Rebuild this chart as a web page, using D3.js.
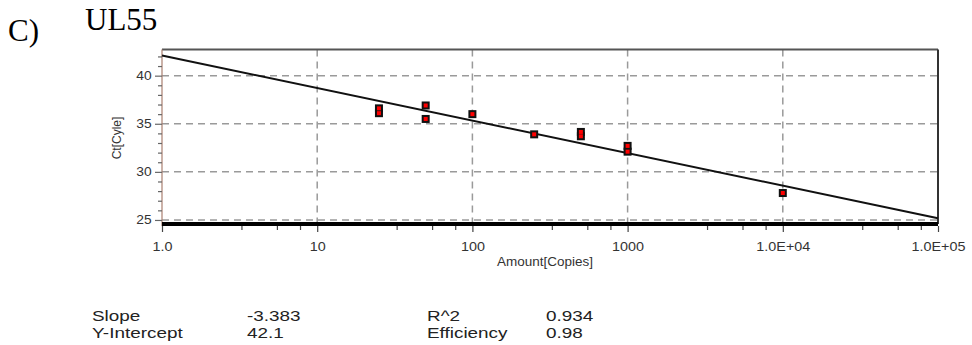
<!DOCTYPE html>
<html>
<head>
<meta charset="utf-8">
<script src="https://cdn.jsdelivr.net/npm/d3@7"></script>
<style>
  body { margin: 0; background: #fff; }
  svg { display: block; }
</style>
</head>
<body>
<div id="container"></div>
<script>
/* CONSTANTS AND GLOBALS */
const width = 972,
  height = 345,
  margin = { top: 49.5, bottom: 121, left: 162, right: 34 }

/* DATA */
const decades = [1, 10, 100, 1000, 10000, 100000]
const xTickLabels = ["1.0", "10", "100", "1000", "1.0E+04", "1.0E+05"]
const yTicks = [25, 30, 35, 40]
const amounts = [25, 25, 50, 50, 100, 250, 500, 500, 1000, 1000, 10000]
const cts = [36.6, 36.1, 36.9, 35.5, 36.0, 33.9, 34.15, 33.7, 32.7, 32.1, 27.8]
const slope = -3.383
const intercept = 42.1
const statNames = ["Slope", "Y-Intercept"]
const statValues = ["-3.383", "42.1"]
const statNames2 = ["R^2", "Efficiency"]
const statValues2 = ["0.934", "0.98"]

const svg = d3.select("#container")
  .append("svg")
  .attr("width", width)
  .attr("height", height)

/* SCALES */
const xScale = d3.scaleLog()
  .domain([1, 100000])
  .range([margin.left, width - margin.right])

const yScale = d3.scaleLinear()
  .domain([24.58, 42.72])
  .range([height - margin.bottom, margin.top])

const x0 = xScale.range()[0], x1 = xScale.range()[1]
const yTop = yScale.range()[1], yBot = yScale.range()[0]

// minor ticks split each decade in 4 linear steps
const xMinor = []
decades.slice(0, -1).forEach(d => {
  for (let k = 1; k <= 3; k++) xMinor.push(d * (1 + 2.25 * k))
})
const yMinor = d3.range(25, 43).filter(v => v % 5 !== 0)

const fontSans = "'Liberation Sans', Arial, sans-serif"

/* GRID */
svg.append("g")
  .selectAll("line")
  .data(decades.slice(1, -1))
  .join("line")
  .attr("x1", d => xScale(d)).attr("x2", d => xScale(d))
  .attr("y1", yTop).attr("y2", yBot - 2)
  .attr("stroke", "#9a9a9a")
  .attr("stroke-width", 1.5)
  .attr("stroke-dasharray", "7,5")

svg.append("g")
  .selectAll("line")
  .data(yTicks)
  .join("line")
  .attr("x1", x0).attr("x2", x1)
  .attr("y1", d => yScale(d)).attr("y2", d => yScale(d))
  .attr("stroke", "#9a9a9a")
  .attr("stroke-width", 1.5)
  .attr("stroke-dasharray", "7,5")

/* FRAME */
svg.append("line")
  .attr("x1", x0).attr("x2", x1)
  .attr("y1", yTop).attr("y2", yTop)
  .attr("stroke", "#555").attr("stroke-width", 2)

svg.append("line")
  .attr("x1", x1).attr("x2", x1)
  .attr("y1", yTop).attr("y2", yBot)
  .attr("stroke", "#333").attr("stroke-width", 2)

/* AXES */
const xAxis = d3.axisBottom(xScale)
  .tickValues(decades)
  .tickFormat((d, i) => xTickLabels[i])
  .tickSize(6)
  .tickSizeOuter(0)
  .tickPadding(10)

const xMinorAxis = d3.axisBottom(xScale)
  .tickValues(xMinor)
  .tickFormat("")
  .tickSize(4)
  .tickSizeOuter(0)

const gx = svg.append("g")
  .attr("transform", `translate(0,${yBot + 2})`)
  .call(xAxis)
gx.select(".domain").remove()
gx.selectAll("line").attr("stroke", "#444").attr("stroke-width", 1.2)
gx.selectAll("text")
  .attr("transform", "scale(1.15,1)")
  .style("font-family", fontSans)
  .style("font-size", "12.5px")
  .attr("fill", "#333")

const gxm = svg.append("g")
  .attr("transform", `translate(0,${yBot + 2})`)
  .call(xMinorAxis)
gxm.select(".domain").remove()
gxm.selectAll("line").attr("stroke", "#444").attr("stroke-width", 1.2)

const yAxis = d3.axisLeft(yScale)
  .tickValues(yTicks)
  .tickSize(7)
  .tickSizeOuter(0)
  .tickPadding(2)

const gy = svg.append("g")
  .attr("transform", `translate(${x0},0)`)
  .call(yAxis)
gy.select(".domain")
  .attr("d", `M0,${yTop}V${yBot + 2}`)
  .attr("stroke", "#a97f6f")
  .attr("stroke-width", 1.2)
gy.selectAll("line").attr("stroke", "#666").attr("stroke-width", 1.2)
gy.selectAll("text")
  .attr("transform", "scale(1.15,1)")
  .style("font-family", fontSans)
  .style("font-size", "12px")
  .attr("fill", "#333")

const gym = svg.append("g")
  .attr("transform", `translate(${x0},0)`)
  .call(d3.axisLeft(yScale).tickValues(yMinor).tickFormat("").tickSize(4).tickSizeOuter(0))
gym.select(".domain").remove()
gym.selectAll("line").attr("stroke", "#666").attr("stroke-width", 1.2)

// thick bottom line
svg.append("line")
  .attr("x1", x0).attr("x2", x1)
  .attr("y1", yBot).attr("y2", yBot)
  .attr("stroke", "#000").attr("stroke-width", 4)

/* FIT LINE */
const fit = d3.line()
  .x(d => xScale(d))
  .y(d => yScale(slope * Math.log10(d) + intercept))

svg.append("path")
  .datum([1, 100000])
  .attr("d", fit)
  .attr("fill", "none")
  .attr("stroke", "#111")
  .attr("stroke-width", 2)

/* POINTS */
const pts = amounts.map((a, i) => ({ a, ct: cts[i] }))

svg.append("g")
  .selectAll("rect")
  .data(pts)
  .join("rect")
  .attr("x", d => xScale(d.a) - 4)
  .attr("y", d => yScale(d.ct) - 4)
  .attr("width", 8).attr("height", 8)
  .attr("fill", "#111")

svg.append("g")
  .selectAll("rect")
  .data(pts)
  .join("rect")
  .attr("x", d => xScale(d.a) - 2)
  .attr("y", d => yScale(d.ct) - 2)
  .attr("width", 4).attr("height", 4)
  .attr("fill", "#ff0000")

/* LABELS */
svg.append("text")
  .attr("transform", `translate(${(x0 + x1) / 2 - 5},266) scale(1.08,1)`)
  .attr("text-anchor", "middle")
  .style("font-family", fontSans)
  .style("font-size", "12.5px")
  .attr("fill", "#333")
  .text("Amount[Copies]")

svg.append("text")
  .attr("transform", `translate(121,138) rotate(-90)`)
  .attr("text-anchor", "middle")
  .style("font-family", fontSans)
  .style("font-size", "12px")
  .attr("fill", "#333")
  .text("Ct[Cyle]")

svg.append("text")
  .attr("x", 8).attr("y", 41)
  .style("font-family", "'Liberation Serif', 'Times New Roman', serif")
  .style("font-size", "31px")
  .text("C)")

svg.append("text")
  .attr("x", 85).attr("y", 30)
  .style("font-family", "'Liberation Serif', 'Times New Roman', serif")
  .style("font-size", "31px")
  .text("UL55")

/* STATS */
const statCols = [
  { x: 92, vals: statNames },
  { x: 247, vals: statValues },
  { x: 427, vals: statNames2 },
  { x: 546, vals: statValues2 }
]
statCols.forEach(c => {
  svg.append("g")
    .selectAll("text")
    .data(c.vals)
    .join("text")
    .attr("transform", (d, i) => `translate(${c.x},${321 + i * 17}) scale(1.35,1)`)
    .style("font-family", fontSans)
    .style("font-size", "14px")
    .attr("fill", "#222")
    .text(d => d)
})
</script>
</body>
</html>
